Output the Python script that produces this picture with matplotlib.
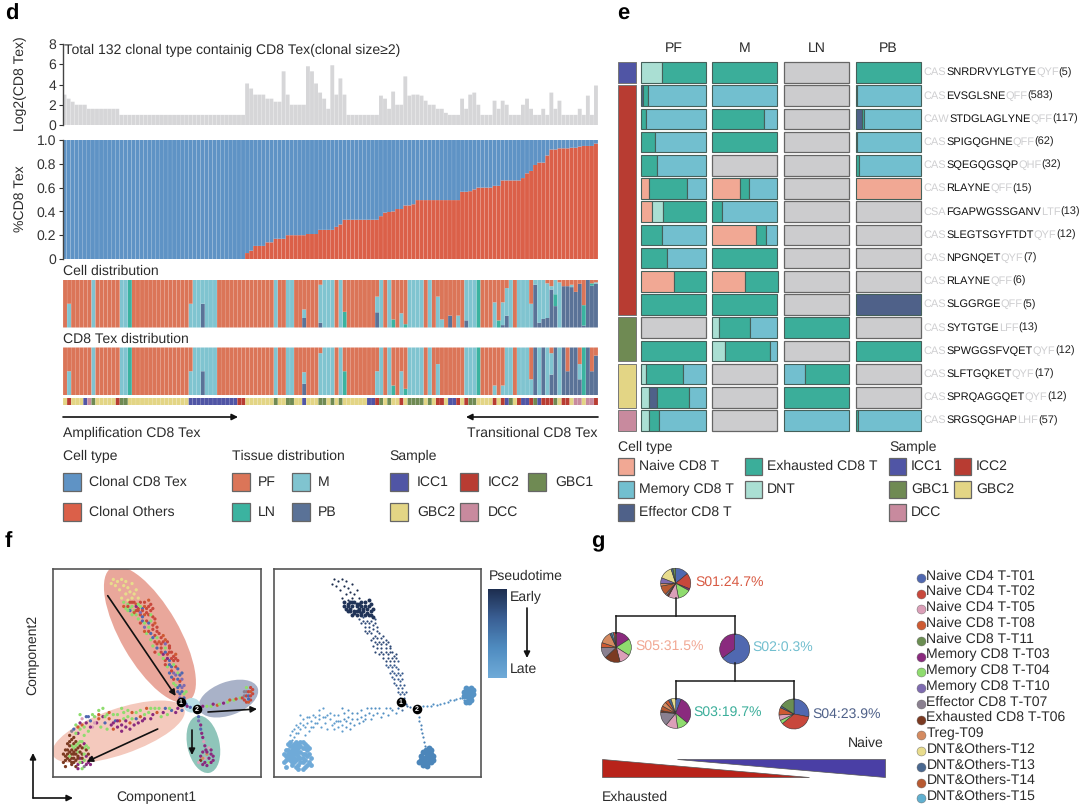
import matplotlib
matplotlib.use("Agg")
import matplotlib.pyplot as plt
import numpy as np
from matplotlib.patches import Rectangle, Ellipse, Polygon
from matplotlib.colors import LinearSegmentedColormap

plt.rcParams['font.family'] = ['Liberation Sans', 'DejaVu Sans']
plt.rcParams['text.hinting'] = 'no_hinting'
plt.rcParams['text.hinting_factor'] = 1
W, H = 1080, 810
TXT = '#2b2b2b'
FS = 10.1

# ---------- panel d data ----------
log2_tex = [3, 2.6, 2.3, 2, 2, 2] + [1.6] * 8 + [1] * 31 + [
    4.1, 3.6, 3, 3, 3, 2.6, 2.6, 2.3, 2.3, 5.3, 3, 2, 2, 2, 2,
    5.8, 5.3, 4.1, 3.2, 2.6, 1.6, 5.9, 3, 4.6, 3, 1, 1, 1, 1, 1, 1, 1, 1,
    2.9, 2.6, 1.6, 3.3, 2, 2, 4.8, 2.9, 3, 3, 2.9, 2.4, 2, 2, 1.6, 1.6, 1.2, 1, 1, 1,
    2.6, 1.6, 3, 3.2, 2, 1, 1, 1, 2.4, 1.6, 2.4, 2, 1, 1, 1, 2, 2.6, 1.6, 1, 1, 1.6, 1,
    3.2, 1.6, 2.4, 1, 1, 1, 1, 1.6, 1, 2.9, 1, 3.9]
others_frac = [0] * 45 + [
    .05, .07, .11, .11, .11, .14, .14, .17, .17, .17, .2, .2, .2, .2, .2,
    .21, .21, .21, .245, .245, .245, .245, .27, .29, .33, .33, .33, .33, .33, .33, .33, .33, .33,
    .36, .39, .395, .40, .42, .42, .45, .45, .46, .495, .495, .495, .495, .495, .495, .495, .495, .495, .495, .495,
    .565, .565, .57, .585, .6, .6, .6, .6, .615, .615, .66, .66, .66, .66, .66, .68, .72, .74, .79, .81, .81,
    .87, .92, .92, .93, .93, .93, .935, .935, .945, .95, .95, .95, .97]

major_main = ("P P PPPPP M PPPPPP MM L PPPPPPPPPPPPPP P MM M MMM PPPPPPPPPPPPPP M PP MM PP P PPP M MMM P M P "
              "PPPPPPP M M P M P P PP MMMM P M P PP P P P P P M MM L PPP PPPP M P MMM "
              "PPPPPPPPPPPPPPPPP").replace(" ", "")
cell_mixed = {
    1: (.5, .5, 0, 0), 31: (.5, .5, 0, 0), 34: (0, .5, 0, .5), 59: (.62, .18, 0, .2), 63: (.1, .8, 0, .1),
    69: (.67, 0, .33, 0), 77: (.35, .33, 0, .32), 81: (.83, 0, .17, 0), 83: (.7, .3, 0, 0), 84: (.93, 0, .07, 0),
    92: (.35, .65, 0, 0), 93: (.83, .17, 0, 0), 95: (.75, 0, 0, .25), 97: (.75, .25, 0, 0), 99: (0, .85, 0, .15),
    106: (.47, .53, 0, 0), 107: (.85, 0, .15, 0), 108: (.47, .48, 0, .05), 109: (.17, .58, 0, .25),
    115: (.5, .5, 0, 0), 116: (0, .1, 0, .9), 117: (0, .9, 0, .1), 118: (0, .82, 0, .18), 119: (.07, .73, 0, .2),
    120: (.13, .07, 0, .8), 121: (0, .3, .25, .45), 122: (.05, .95, 0, 0), 123: (.13, 0, 0, .87), 124: (.13, 0, 0, .87),
    125: (.1, .05, 0, .85), 126: (.25, 0, 0, .75), 127: (.08, 0, 0, .92), 128: (.53, 0, .43, .04), 129: (0, 0, 0, 1),
    130: (.07, 0, .05, .88), 131: (.05, .03, 0, .92)}
tex_mixed = {
    1: (.5, .5, 0, 0), 31: (.5, .5, 0, 0), 34: (0, .5, 0, .5), 59: (.52, .24, 0, .24), 63: (.12, .88, 0, 0),
    69: (.5, 0, .5, 0), 77: (.5, .5, 0, 0), 81: (.8, 0, .2, 0), 83: (.5, .5, 0, 0), 84: (.87, 0, .13, 0),
    92: (.35, .65, 0, 0), 99: (0, 1, 0, 0), 106: (.8, .2, 0, 0), 108: (.8, .2, 0, 0), 109: (0, 1, 0, 0),
    115: (.67, .33, 0, 0), 116: (0, 0, 0, 1), 117: (0, 1, 0, 0), 118: (0, 0, 0, 1), 119: (0, 1, 0, 0),
    120: (.12, .45, 0, .43), 121: (0, 0, 0, 1), 122: (0, 1, 0, 0), 123: (0, 0, 0, 1), 124: (.5, 0, 0, .5),
    125: (0, 0, 0, 1), 126: (0, 0, 0, 1), 127: (.35, .32, 0, .33), 128: (0, 0, 1, 0), 129: (0, 0, 0, 1),
    130: (.5, 0, 0, .5), 131: (.17, 0, 0, .83)}
sample_strip = ("Y R YYY I D G YYYYY R GG YYYYYYYYYYYYYYY IIIIIIIIIIII RR YYYYYYY G YY GG YY I YYY GG Y G Y G "
                "YYYYYY II R G Y G YY R Y GGGG Y G Y RR Y II R Y R GG YYY Y R Y R I G Y R II R G I RRR G Y RR Y DD Y DD R"
                ).replace(" ", "")
sample_strip = (sample_strip + "Y" * 132)[:132]
tissue_names = ["PF", "M", "LN", "PB"]
tissue_cols = {"PF": "#DB7558", "M": "#80C4D0", "LN": "#3BB3A0", "PB": "#5A7297"}
sample_names = ["ICC1", "ICC2", "GBC1", "GBC2", "DCC"]
sample_cols = {"I": "#5055A5", "R": "#B83C32", "G": "#6F8A53", "Y": "#E3D585", "D": "#C88A9E"}

# ---------- panel e data ----------
N_, M_, E_, X_, D_ = "Naive CD8 T", "Memory CD8 T", "Effector CD8 T", "Exhausted CD8 T", "DNT"
type_cols = {N_: "#F1A894", M_: "#72BFCF", E_: "#4F6189", X_: "#3BAE9A", D_: "#AADFD3"}
EMPTY = "#CCCCCE"
e_pf = [[(D_, .33), (X_, .67)], [(E_, .03), (X_, .08), (M_, .89)], [(X_, .07), (M_, .93)], [(X_, .21), (M_, .79)],
        [(X_, .25), (M_, .75)], [(N_, .13), (X_, .58), (M_, .29)], [(N_, .17), (D_, .17), (X_, .66)],
        [(X_, .33), (M_, .67)], [(X_, .40), (M_, .60)], [(N_, .5), (X_, .5)], [(X_, 1)], [], [(X_, 1)],
        [(D_, .07), (X_, .57), (M_, .36)], [(D_, .13), (E_, .12), (X_, .49), (M_, .26)], [(D_, .13), (X_, .15), (M_, .72)]]
e_m = [[(X_, 1)], [(M_, 1)], [(X_, .8), (M_, .2)], [(X_, 1)], [], [(N_, .43), (X_, .14), (M_, .43)], [(X_, .15), (M_, .85)],
       [(N_, .67), (X_, .15), (M_, .18)], [(X_, 1)], [(N_, .5), (X_, .5)], [(X_, 1)],
       [(D_, .1), (X_, .48), (M_, .42)], [(D_, .2), (X_, .68), (M_, .12)], [], [], []]
e_ln = [[], [], [], [], [], [], [], [], [], [], [], [(X_, 1)], [], [(M_, .32), (X_, .68)], [(X_, 1)], [(M_, 1)]]
e_pb = [[(X_, 1)], [(X_, .03), (M_, .97)], [(E_, .1), (X_, .03), (M_, .87)], [(X_, .02), (M_, .98)], [(X_, .05), (M_, .95)],
        [(N_, 1)], [], [], [], [], [(E_, 1)], [], [(X_, 1)], [], [], [(X_, .04), (M_, .96)]]
e_columns = [("PF", e_pf, 641, 706), ("M", e_m, 712, 777.5), ("LN", e_ln, 784, 849), ("PB", e_pb, 855.5, 921)]
e_groups = [("I", 0, 1), ("R", 1, 10), ("G", 11, 2), ("Y", 13, 2), ("D", 15, 1)]
cdr3 = [("CAS", "SNRDRVYLGTYE", "QYF", "(5)"), ("CAS", "EVSGLSNE", "QFF", "(583)"), ("CAW", "STDGLAGLYNE", "QFF", "(117)"),
        ("CAS", "SPIGQGHNE", "QFF", "(62)"), ("CAS", "SQEGQGSQP", "QHF", "(32)"), ("CAS", "RLAYNE", "QFF", "(15)"),
        ("CSA", "FGAPWGSSGANV", "LTF", "(13)"), ("CAS", "SLEGTSGYFTDT", "QYF", "(12)"), ("CAS", "NPGNQET", "QYF", "(7)"),
        ("CAS", "RLAYNE", "QFF", "(6)"), ("CAS", "SLGGRGE", "QFF", "(5)"), ("CAS", "SYTGTGE", "LFF", "(13)"),
        ("CAS", "SPWGGSFVQET", "QYF", "(12)"), ("CAS", "SLFTGQKET", "QYF", "(17)"), ("CAS", "SPRQAGGQET", "QYF", "(12)"),
        ("CAS", "SRGSQGHAP", "LHF", "(57)")]

# ---------- panel f data (x, y, cluster) in percent of the plot box ----------
top_early = [(29,95,'Y'),(31,94,'Y'),(33,95,'Y'),(30,92,'Y'),(34,92,'Y'),(36,91,'Y'),(38,93,'Y'),(37,89,'Y'),(39,88,'Y'),
             (35,88,'Y'),(40,90,'Y'),(33,86,'Y'),(36,85,'Y'),(38,86,'Y'),(41,86,'Y'),(32,90,'Y'),(28,93,'Y'),(35,94,'Y')]
top_dense = [(34,84,'G'),(36,83,'G'),(38,84,'R'),(40,83,'O'),(42,84,'R'),(44,84,'R'),(46,85,'O'),(47,83,'R'),(35,81,'G'),
             (37,81,'G'),(39,80,'G'),(41,81,'R'),(43,81,'B'),(45,81,'R'),(47,80,'R'),(40,78,'G'),(42,78,'R'),(44,78,'O'),
             (46,78,'R'),(48,77,'R'),(36,82,'R'),(37,80,'B'),(38,82,'G'),(39,84,'R'),(40,82,'P'),(41,80,'R'),(42,82,'G'),
             (39,79,'O'),(37,84,'R'),(43,80,'R'),(41,83,'G'),(38,78,'G'),(40,80,'R'),(42,79,'V'),
             (36,80,'G'),(34,82,'O'),(44,82,'O'),(46,82,'R'),(48,81,'R'),(45,79,'R'),(47,78,'G')]
top_mid = [(43,75,'B'),(45,75,'R'),(47,75,'G'),(49,74,'O'),(44,72,'V'),(46,72,'G'),(48,71,'R'),(50,72,'R'),(45,69,'G'),(47,69,'B'),
           (49,68,'R'),(51,69,'R'),(53,68,'O'),(47,66,'G'),(49,65,'R'),(51,65,'O'),(53,65,'R'),(55,65,'R'),(50,62,'B'),(52,62,'R'),
           (54,62,'G'),(56,62,'R'),(51,59,'G'),(53,59,'P'),(55,59,'R'),(57,60,'R'),(59,59,'O'),(54,56,'R'),(56,56,'B'),(58,56,'R'),
           (41,76,'G'),(43,77,'B'),(49,76,'R'),(42,74,'R'),(44,74,'G'),(46,74,'B'),(48,73,'R'),(50,70,'R'),(44,70,'O'),(46,70,'R'),
           (48,67,'B'),(50,67,'G'),(52,67,'R'),(54,66,'O'),(48,63,'G'),(50,64,'R'),(52,64,'R'),(54,64,'V'),(56,63,'R'),(49,60,'R'),
           (52,60,'R'),(54,60,'B'),(56,60,'R'),(58,58,'R'),(53,57,'G'),(55,57,'P'),(57,57,'R'),(59,57,'R')]
top_late = [(60,56,'R'),(55,53,'G'),(57,53,'B'),(59,53,'R'),(56,50,'B'),(58,50,'V'),(60,50,'G'),(62,50,'B'),(58,47,'R'),(60,47,'B'),
            (62,47,'V'),(59,44,'G'),(61,44,'B'),(63,44,'V'),(60,41,'B'),(62,41,'B'),(64,41,'G'),(61,38,'V'),(63,38,'B'),(62,36,'B'),(64,35,'B'),
            (54,54,'R'),(56,54,'B'),(58,54,'G'),(60,52,'B'),(57,51,'R'),(59,49,'V'),(61,49,'B'),(57,48,'B'),(61,46,'R'),(58,45,'G'),
            (60,43,'B'),(62,43,'V'),(61,40,'B'),(63,40,'G')]
low_near = [(59,31,'P'),(57,32,'B'),(55,30,'G'),(53,31,'P'),(52,29,'G'),(50,31,'O'),(48,30,'P'),(46,31,'G'),(47,28,'P'),(44,30,'G'),
            (42,29,'O'),(43,27,'P'),(40,28,'B'),(41,26,'P'),(38,28,'G'),(39,25,'P'),(36,29,'G'),(37,26,'O'),(35,24,'P'),(34,28,'G'),
            (56,33,'G'),(54,33,'B'),(51,33,'G'),(49,33,'G'),(47,33,'G'),(45,33,'O'),(44,28,'P'),(42,32,'G'),(40,31,'G'),(38,31,'O'),
            (36,32,'G'),(34,31,'G'),(33,33,'G'),(35,27,'P'),(37,23,'P')]
low_far = [(33,25,'P'),(31,30,'G'),(32,27,'O'),(30,27,'B'),(29,30,'G'),(28,25,'P'),(27,28,'O'),(26,30,'G'),(25,26,'B'),(24,29,'P'),
           (23,24,'G'),(22,28,'O'),(21,26,'P'),(20,29,'G'),(19,24,'K'),(18,27,'B'),(17,22,'G'),(16,26,'P'),(15,20,'G'),(14,25,'O'),
           (13,23,'G'),(12,21,'P'),(11,25,'G'),(10,19,'N'),(9,22,'S'),(13,30,'G'),(17,29,'B'),(22,32,'G'),
           (31,27,'P'),(29,26,'P'),(27,31,'O'),(25,29,'G'),(24,33,'G'),(22,30,'O'),(20,26,'K'),(19,30,'G'),(18,24,'P'),(16,29,'B'),
           (15,24,'G'),(14,28,'K'),(13,26,'P'),(11,21,'G'),(12,24,'O'),(10,23,'B'),(9,18,'N'),(8,20,'N'),(33,22,'P'),(31,24,'P'),
           (29,23,'O'),(26,23,'G')]
low_blob = [(6,10,'N'),(7,13,'N'),(8,8,'N'),(8,12,'N'),(9,15,'G'),(9,6,'N'),(10,11,'N'),(10,14,'G'),(11,8,'N'),(11,17,'N'),(12,6,'P'),
            (12,12,'G'),(13,15,'N'),(13,9,'P'),(14,11,'N'),(14,7,'P'),(15,14,'G'),(15,5,'S'),(16,10,'P'),(17,7,'P'),(7,16,'N'),(6,13,'N'),
            (10,7,'N'),(12,16,'G'),(11,5,'N'),(9,11,'N'),(8,15,'N'),(13,12,'N'),(14,17,'G'),(16,13,'N'),(18,9,'P'),(7,9,'N'),(5,7,'N'),
            (9,9,'N'),(11,11,'N'),(12,9,'N'),(10,16,'N'),(15,8,'G'),(14,4,'G'),(17,11,'N'),(6,5,'N'),
            (7,11,'N'),(8,10,'G'),(9,13,'N'),(10,9,'N'),(11,13,'N'),(12,10,'N'),(12,14,'N'),(13,7,'G'),(13,17,'G'),(14,9,'N'),(14,14,'N'),
            (15,11,'G'),(15,16,'P'),(16,6,'P'),(16,15,'G'),(11,15,'G'),(10,12,'N'),(9,7,'N'),(6,8,'N'),(5,11,'N'),(8,17,'N'),(12,4,'P'),
            (17,14,'G'),(18,6,'P')]
bot_stem = [(70,29,'B'),(70,27,'V'),(71,25,'P'),(71,23,'B'),(71.5,21,'P'),(72,19,'P'),(72.5,17,'K'),(73,15,'P')]
bot_blob = [(73.5,13,'P'),(75,14,'K'),(76,13,'P'),(72,12,'P'),(74,11,'A'),(76,11,'P'),(71,10,'P'),(73,9,'K'),(75,9,'P'),(77,10,'P'),
            (71,8,'N'),(73,7,'P'),(75,7,'G'),(72,6,'P'),(74,5.5,'P'),(76,7,'P'),(74,12,'P'),(72,9,'A'),(70,7,'K'),(77,8,'P')]
right_arm = [(72,34,'P'),(74,34,'G'),(76,34,'G'),(77,35,'P'),(79,34.5,'O'),(80,35,'G'),(82,35.5,'P'),(84,36,'G'),(85,37,'O'),(87,37,'G'),
             (88,37.5,'R'),(90,38,'G'),(91,38,'R'),(92,37,'R')]
right_blob = [(93,36,'R'),(94,36,'O'),(95,37,'R'),(92,39,'S'),(93,39,'R'),(94,39,'B'),(95,39,'R'),(96,40,'R'),(92,41,'S'),(93,41,'S'),
              (94,41,'R'),(95,41,'O'),(96,42,'R'),(93,43,'G'),(95,43,'R'),(94,37.5,'B')]
node_arm = [(63,35,'B'),(64.5,34,'P'),(66,33.5,'B'),(60,33,'P'),(62,32,'B')]
# (points, pseudotime 0..1, marker size)
cell_groups = [(top_early, .0, 2.5), (top_dense, .05, 8), (top_mid, .18, 2.5), (top_late, .3, 2.5), (node_arm, .45, 2.5),
               (low_near, .72, 2.5), (low_far, .85, 2.5), (low_blob, 1.0, 12), (bot_stem, .6, 2.5), (bot_blob, .62, 18),
               (right_arm, .7, 2.5), (right_blob, .74, 18)]
cluster_cols = {'B': '#5068B0', 'R': '#C8483C', 'K': '#DB9FB8', 'O': '#CE5A32', 'P': '#8A2A7E', 'G': '#8FDC6E',
                'V': '#7E6BB0', 'S': '#8A8090', 'N': '#7B3A22', 'A': '#D48A60', 'Y': '#E8DC8C'}
region_ellipses = [((46.6, 68.5), 74, 28, -60, '#E9A79B'), ((31.5, 21.7), 67, 22, 19, '#F4C9BD'), ((72.3, 15.7), 28, 15.5, -78, '#8FC5BA'),
                   ((84.3, 37.7), 30, 16, 20, '#A9B2C8'), ((66.7, 34.5), 8, 7, 0, '#BADFE8')]
nodes = [(61.3, 36, '1'), (69, 32.8, '2')]

# ---------- panel g data ----------
g_names = ["Naive CD4 T-T01", "Naive CD4 T-T02", "Naive CD4 T-T05", "Naive CD8 T-T08", "Naive CD8 T-T11", "Memory CD8 T-T03",
           "Memory CD8 T-T04", "Memory CD8 T-T10", "Effector CD8 T-T07", "Exhausted CD8 T-T06", "Treg-T09", "DNT&Others-T12",
           "DNT&Others-T13", "DNT&Others-T14", "DNT&Others-T15"]
g_cols = ["#5068B0", "#C8483C", "#DB9FB8", "#CE5A32", "#6B8E52", "#8A2A7E", "#8FDC6E", "#7E6BB0", "#8A8090", "#7B3A22",
          "#D48A60", "#E8DC8C", "#4A6890", "#B85A32", "#60B0D0"]
gc = dict(zip(["T01", "T02", "T05", "T08", "T11", "T03", "T04", "T10", "T07", "T06", "T09", "T12", "T13", "T14", "T15"], g_cols))
s01 = [("T01", .14), ("T02", .17), ("T03", .02), ("T04", .14), ("T05", .11), ("T06", .02), ("T07", .02), ("T14", .10), ("T09", .03),
       ("T10", .06), ("T12", .14), ("T13", .02), ("T11", .03)]
s05 = [("T03", .16), ("T04", .18), ("T05", .12), ("T06", .17), ("T07", .12), ("T08", .05), ("T09", .13), ("T13", .02), ("T15", .02),
       ("T02", .02), ("T14", .01)]
s02 = [("T01", .65), ("T03", .35)]
s03 = [("T01", .06), ("T03", .30), ("T04", .12), ("T05", .13), ("T07", .15), ("T06", .02), ("T14", .05), ("T09", .05), ("T08", .04),
       ("T13", .03), ("T12", .05)]
s04 = [("T01", .28), ("T02", .36), ("T04", .04), ("T05", .06), ("T08", .08), ("T13", .02), ("T11", .16)]
g_pies = [(s01, 675.7, 583.3, "S01:24.7%", 695, 581, "#D85A43"), (s05, 616.3, 647.3, "S05:31.5%", 635, 645, "#F1A894"),
          (s02, 734.7, 649, "S02:0.3%", 752.5, 646.5, "#72BFCF"), (s03, 675.7, 713.3, "S03:19.7%", 693, 711, "#3BAE9A"),
          (s04, 794, 714, "S04:23.9%", 812.5, 713.5, "#4F6189")]

# ---------- figure ----------
fig = plt.figure(figsize=(W / 100, H / 100), dpi=100)


def axpx(x0, y0, x1, y1, **kw):
    return fig.add_axes([x0 / W, 1 - y1 / H, (x1 - x0) / W, (y1 - y0) / H], **kw)


ov = axpx(0, 0, W, H, zorder=20)
ov.set_xlim(0, W)
ov.set_ylim(H, 0)
ov.axis('off')
ov.patch.set_alpha(0)


def T(x, y, s, size=FS, ha='left', va='center', color=TXT, **kw):
    dy = 0 if 'rotation' in kw else 1
    return ov.text(x, y + dy, s, fontsize=size, ha=ha, va=va, color=color, **kw)


def swatch(x, y, w, h, c):
    ov.add_patch(Rectangle((x, y), w, h, fc=c, ec='#666666', lw=0.9))


def arrow(x0, y0, x1, y1, lw=1.2, ms=9):
    ov.annotate("", xy=(x1, y1), xytext=(x0, y0),
                arrowprops=dict(arrowstyle='-|>', color='#111111', lw=lw, mutation_scale=ms, shrinkA=0, shrinkB=0))


for s, x, y in [("d", 5, 13), ("e", 617, 13), ("f", 5, 540), ("g", 591, 541)]:
    T(x, y, s, size=16, weight='bold', color='black')

n = len(log2_tex)
xs = np.arange(n)
XL = (-0.5, n - 0.5)


def soft(container):
    for p in container:
        p.set_snap(False)


a1 = axpx(62.5, 44, 598, 125)
soft(a1.bar(xs, log2_tex, width=0.95, color='#D6D6D8'))
a1.set_xlim(*XL)
a1.set_ylim(0, 8)
a1.set_yticks([0, 2, 4, 6, 8])
a2 = axpx(62.5, 140, 598, 259)
frac = np.array(others_frac)
soft(a2.bar(xs, frac, width=0.96, color='#DB6049'))
soft(a2.bar(xs, 1 - frac, bottom=frac, width=0.96, color='#5F93C5'))
a2.set_xlim(*XL)
a2.set_ylim(0, 1)
a2.set_yticks([0, .2, .4, .6, .8, 1.0])
a2.set_yticklabels(['0', '0.2', '0.4', '0.6', '0.8', '1.0'])
for a in (a1, a2):
    for sp in ('top', 'right', 'bottom'):
        a.spines[sp].set_visible(False)
    a.spines['left'].set_color('#444444')
    a.spines['left'].set_linewidth(1.0)
    a.set_xticks([])
    a.tick_params(axis='y', length=3, width=0.8, labelsize=10.3, pad=1.5, colors='#333333')
    a.patch.set_alpha(0)
T(20, 84, "Log2(CD8 Tex)", rotation=90, ha='center')
T(20, 199, "%CD8 Tex", rotation=90, ha='center')
T(63.5, 49, "Total 132 clonal type containig CD8 Tex(clonal size≥2)", size=10.3)
T(63, 270, "Cell distribution")
T(63, 338, "CD8 Tex distribution")


def dist_axis(y0, y1, mixed):
    a = axpx(63, y0, 598, y1)
    tbl = np.zeros((n, 4))
    for i, c in enumerate(major_main):
        tbl[i, "PMLB".index(c)] = 1
    for i, v in mixed.items():
        tbl[i] = v
    bottom = np.zeros(n)
    for j in [3, 2, 1, 0]:
        soft(a.bar(xs, tbl[:, j], bottom=bottom, width=0.96, color=tissue_cols[tissue_names[j]]))
        bottom += tbl[:, j]
    a.set_xlim(*XL)
    a.set_ylim(0, 1)
    a.axis('off')


dist_axis(280, 327.5, cell_mixed)
dist_axis(347.5, 395, tex_mixed)
a3 = axpx(63, 398, 598, 405)
soft(a3.bar(xs, np.ones(n), width=0.96, color=[sample_cols[c] for c in sample_strip]))
a3.set_xlim(*XL)
a3.set_ylim(0, 1)
a3.axis('off')

arrow(63, 417, 238, 417)
arrow(598, 417, 466, 417)
T(63, 432.5, "Amplification CD8 Tex")
T(597.5, 432, "Transitional CD8 Tex", ha='right')
T(63, 455.5, "Cell type")
T(232, 455.5, "Tissue distribution")
T(389, 455.5, "Sample")
swatch(63, 473, 18, 18, '#5F93C5'); T(89, 481, "Clonal CD8 Tex")
swatch(63, 503, 18, 18, '#DB6049'); T(89, 511, "Clonal Others")
swatch(232, 473, 18, 18, tissue_cols["PF"]); T(258, 481, "PF")
swatch(292, 473, 18, 18, tissue_cols["M"]); T(318, 481, "M")
swatch(232, 503, 18, 18, tissue_cols["LN"]); T(258, 511, "LN")
swatch(292, 503, 18, 18, tissue_cols["PB"]); T(318, 511, "PB")
swatch(390, 473, 18, 18, sample_cols["I"]); T(417, 481, "ICC1")
swatch(460, 473, 18, 18, sample_cols["R"]); T(488, 481, "ICC2")
swatch(528, 473, 18, 18, sample_cols["G"]); T(555, 481, "GBC1")
swatch(390, 503, 18, 18, sample_cols["Y"]); T(417, 511, "GBC2")
swatch(460, 503, 18, 18, sample_cols["D"]); T(488, 511, "DCC")

# panel e
HGT = 20.5 / 23.2
for name, col, x0, x1 in e_columns:
    a = axpx(x0, 60.9, x1, 432.1)
    for r, segs in enumerate(col):
        left = 0
        if not segs:
            a.barh(r, 1, height=HGT, color=EMPTY, edgecolor='#666666', linewidth=0.9, clip_on=False)
        for t, v in segs:
            a.barh(r, v, left=left, height=HGT, color=type_cols[t], edgecolor='#45605a', linewidth=0.8, clip_on=False)
            left += v
    a.set_xlim(0, 1)
    a.set_ylim(15.5, -0.5)
    a.axis('off')
    T((x0 + x1) / 2, 47.5, name, ha='center')
side = axpx(617.5, 60.9, 635.5, 432.1)
for c, start, cnt in e_groups:
    side.barh(start + (cnt - 1) / 2, 1, height=cnt - 1 + HGT, color=sample_cols[c], edgecolor='#777777', linewidth=0.7, clip_on=False)
side.set_xlim(0, 1)
side.set_ylim(15.5, -0.5)
side.axis('off')

rend = fig.canvas.get_renderer()
for r, (pre, mid, suf, cnt) in enumerate(cdr3):
    y = 71.5 + 23.2 * r
    x = 923.5
    for s, c in [(pre, '#CFCFD1'), (mid, '#111111'), (suf, '#CFCFD1'), (cnt, '#222222')]:
        t = T(x, y, s, size=7.8, color=c)
        x = t.get_window_extent(rend).x1

T(617.5, 446, "Cell type")
swatch(617.5, 458, 16.5, 17, type_cols[N_]); T(639, 465.5, N_)
swatch(617.5, 481, 16.5, 17, type_cols[M_]); T(639, 488.5, M_)
swatch(617.5, 504, 16.5, 17, type_cols[E_]); T(639, 511.5, E_)
swatch(745, 458, 16.5, 17, type_cols[X_]); T(767, 465.5, X_)
swatch(745, 481, 16.5, 17, type_cols[D_]); T(767, 488.5, D_)
T(889, 446, "Sample")
swatch(889, 458, 17, 17, sample_cols["I"]); T(911, 465.5, "ICC1")
swatch(954, 458, 17, 17, sample_cols["R"]); T(976, 465.5, "ICC2")
swatch(889, 481, 17, 17, sample_cols["G"]); T(911, 488.5, "GBC1")
swatch(954, 481, 17, 17, sample_cols["Y"]); T(976, 488.5, "GBC2")
swatch(889, 504, 17, 17, sample_cols["D"]); T(911, 511.5, "DCC")

# panel f
fL = axpx(53, 569, 261, 777)
fR = axpx(273.5, 569, 481, 777)
pt_cmap = LinearSegmentedColormap.from_list("pt", ["#1D2D4E", "#3A5F94", "#4F8CC0", "#6FAAD8"])
for ax_ in (fL, fR):
    ax_.set_xlim(0, 100)
    ax_.set_ylim(0, 100)
    ax_.set_xticks([])
    ax_.set_yticks([])
    for sp in ax_.spines.values():
        sp.set_color('#555555')
        sp.set_linewidth(1.2)
for c, w, h, ang, col in region_ellipses:
    fL.add_patch(Ellipse(c, w, h, angle=ang, fc=col, ec='none', zorder=1))
for pts, pt, size in cell_groups:
    px = [p[0] for p in pts]
    py = [p[1] for p in pts]
    fL.scatter(px, py, s=5.5, c=[cluster_cols[p[2]] for p in pts], linewidths=0, zorder=2)
    fR.scatter(px, py, s=size, color=pt_cmap(pt), linewidths=0, zorder=2)
for ax_ in (fL, fR):
    for nx, ny, lab in nodes:
        ax_.scatter([nx], [ny], s=48, c='black', zorder=4, linewidths=0)
        ax_.text(nx, ny, lab, color='white', fontsize=4.8, weight='bold', ha='center', va='center', zorder=5)
arrow(107.7, 595.7, 175.7, 696)
arrow(157.7, 729, 86.7, 761.7)
arrow(192, 730, 192, 755)
arrow(208, 712, 257, 709)
arrow(33, 798, 33, 753)
arrow(33, 798, 73, 798)
T(156, 796, "Component1", ha='center')
T(33, 655, "Component2", rotation=90, ha='center')
T(489, 575.5, "Pseudotime")
cb = axpx(488, 589, 506.7, 678)
cb.imshow(np.linspace(0, 1, 64).reshape(-1, 1), cmap=pt_cmap, aspect='auto')
cb.axis('off')
T(510, 596.5, "Early")
T(510, 668.5, "Late")
arrow(527, 608, 527, 658)

# panel g
tree = [[(675.7, 598), (675.7, 616)], [(616.3, 616), (734.7, 616)], [(616.3, 616), (616.3, 633)], [(734.7, 616), (734.7, 634)],
        [(734.7, 663), (734.7, 681)], [(675.7, 681), (794, 681)], [(675.7, 681), (675.7, 699)], [(794, 681), (794, 699)]]
for seg in tree:
    ov.plot(*zip(*seg), color='#1a1a1a', lw=1.1, solid_capstyle='projecting')
for data, cx, cy, lab, lx, ly, lc in g_pies:
    a = axpx(cx - 15.5, cy - 15.5, cx + 15.5, cy + 15.5)
    a.pie([v for _, v in data], colors=[gc[k] for k, _ in data], startangle=90, counterclock=False, radius=1.0,
          wedgeprops=dict(edgecolor='#333333', linewidth=0.4))
    a.set_xlim(-1.03, 1.03)
    a.set_ylim(-1.03, 1.03)
    T(lx, ly, lab, color=lc, size=10.4)
ov.add_patch(Polygon([(601.5, 758.5), (601.5, 776.5), (809, 776.5)], closed=True, fc='#B8231A', ec='#555555', lw=0.5))
ov.add_patch(Polygon([(677, 758.5), (884.5, 758.5), (884.5, 776.5)], closed=True, fc='#4A3FA5', ec='#555555', lw=0.5))
T(884, 742.5, "Naive", ha='right')
T(601.5, 796.5, "Exhausted")
for i, (name, col) in enumerate(zip(g_names, g_cols)):
    y = 578 + 15.74 * i
    ov.scatter([920.7], [y], s=42, color=col, edgecolors='#666666', linewidths=0.3)
    T(926.5, y - 3, name, size=10.2)

fig.savefig('out.png', dpi=100)
